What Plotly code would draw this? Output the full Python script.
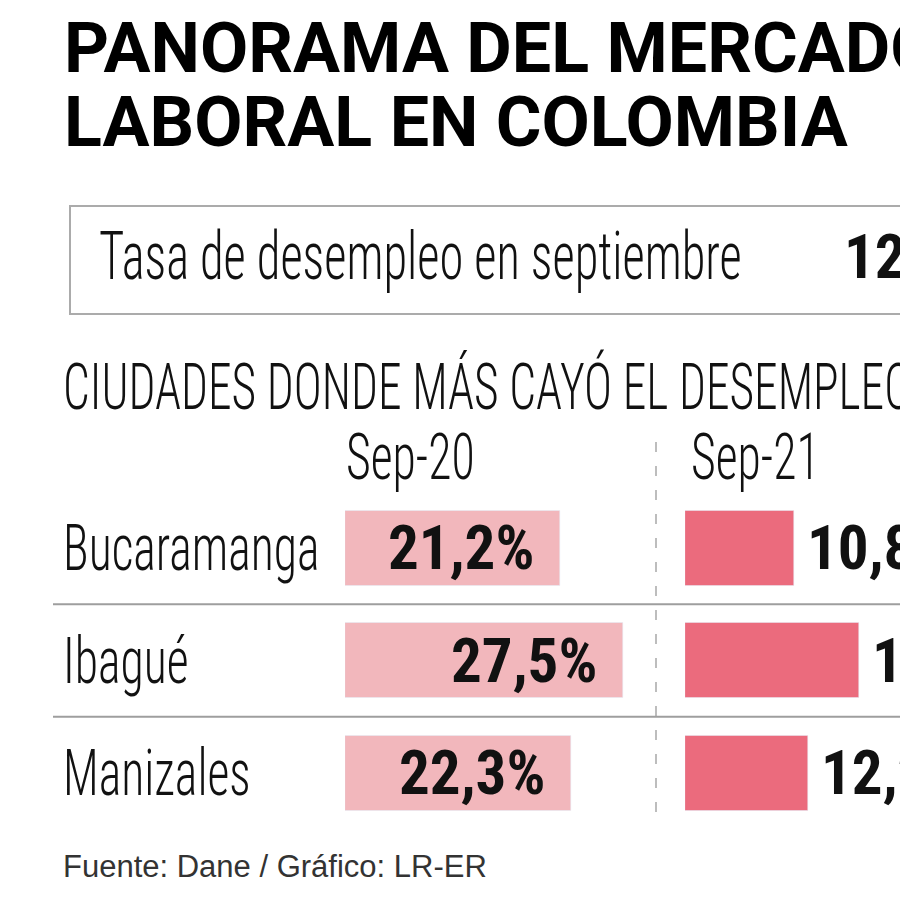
import plotly.graph_objects as go

# ---- data ----
cities = ["Bucaramanga", "Ibagué", "Manizales"]
sep20 = [21.2, 27.5, 22.3]
sep21 = [10.8, 17.2, 12.2]
period_labels = ["Sep-20", "Sep-21"]
national_rate = 12.1

title_lines = ["PANORAMA DEL MERCADO", "LABORAL EN COLOMBIA"]
box_label = "Tasa de desempleo en septiembre"
section_title = "CIUDADES DONDE MÁS CAYÓ EL DESEMPLEO"
source = "Fuente: Dane / Gráfico: LR-ER"

# ---- styles ----
W, H = 900, 900
C_LIGHT = "#F2B7BC"
C_DARK = "#EB6B7D"
COND = "Roboto Condensed, Roboto, Arial, sans-serif"
BOLD_T = "Roboto, Arial, sans-serif"
INK = "#111111"
GRID = "#9e9e9e"
SQUEEZE = "sx=0.735"   # horizontal squeeze that imitates a light condensed face


def fmt(v):
    return f"{v:.1f}".replace(".", ",") + "%"


def py(pix):  # pixel from top -> paper y
    return 1 - pix / H


def px(pix):
    return pix / W


PX_PER_UNIT = 10.12
x1_dom = [345 / W, 645 / W]
x2_dom = [685 / W, 1.0]

fig = go.Figure()
fig.add_trace(go.Bar(
    y=cities, x=sep20, orientation="h", marker_color=C_LIGHT,
    width=0.67, xaxis="x", yaxis="y", hoverinfo="skip", showlegend=False,
))
fig.add_trace(go.Bar(
    y=cities, x=sep21, orientation="h", marker_color=C_DARK,
    width=0.67, xaxis="x2", yaxis="y", hoverinfo="skip", showlegend=False,
))

LIGHT = dict(family=COND, color=INK, weight=300)

ann = []
# titles
for line, mid in zip(title_lines, [47.7, 122.3]):
    ann.append(dict(text=line, x=px(62), y=py(mid), xref="paper", yref="paper",
                    xanchor="left", yanchor="middle", showarrow=False,
                    font=dict(family=BOLD_T, size=70, color="#000000", weight="bold")))
# box texts
ann.append(dict(text=box_label, x=px(97), y=py(256.5), xref="paper", yref="paper",
                xanchor="left", yanchor="middle", showarrow=False, name=SQUEEZE,
                font=dict(size=66, **LIGHT)))
ann.append(dict(text=fmt(national_rate), x=px(842), y=py(257), xref="paper", yref="paper",
                xanchor="left", yanchor="middle", showarrow=False,
                font=dict(family=COND, size=61, color=INK, weight="bold")))
# section header
ann.append(dict(text=section_title, x=px(61), y=py(386.5), xref="paper", yref="paper",
                xanchor="left", yanchor="middle", showarrow=False, name=SQUEEZE,
                font=dict(size=64.5, **LIGHT)))
# period headers
for lab, xx in zip(period_labels, [344, 689]):
    ann.append(dict(text=lab, x=px(xx), y=py(457), xref="paper", yref="paper",
                    xanchor="left", yanchor="middle", showarrow=False, name=SQUEEZE,
                    font=dict(size=65, **LIGHT)))
# city labels
for c in cities:
    ann.append(dict(text=c, x=px(61), y=c, xref="paper", yref="y",
                    xanchor="left", yanchor="middle", showarrow=False, name=SQUEEZE,
                    font=dict(size=65, **LIGHT)))
# values
for c, v in zip(cities, sep20):
    ann.append(dict(text=fmt(v), x=v, y=c, xref="x", yref="y", xanchor="right",
                    yanchor="middle", xshift=-24, showarrow=False,
                    font=dict(family=COND, size=61, color=INK, weight="bold")))
for c, v in zip(cities, sep21):
    ann.append(dict(text=fmt(v), x=v, y=c, xref="x2", yref="y", xanchor="left",
                    yanchor="middle", xshift=11, showarrow=False,
                    font=dict(family=COND, size=61, color=INK, weight="bold")))
# source
ann.append(dict(text=source, x=px(61), y=py(866.5), xref="paper", yref="paper",
                xanchor="left", yanchor="middle", showarrow=False,
                font=dict(family="Liberation Sans, Arial, sans-serif", size=31, color="#333333")))

shapes = [
    dict(type="rect", xref="paper", yref="paper", x0=px(70), x1=px(920),
         y0=py(314), y1=py(206), line=dict(color="#ababab", width=2), layer="below"),
    dict(type="line", xref="paper", yref="paper", x0=px(656), x1=px(656),
         y0=py(812), y1=py(440), line=dict(color="#a8a8a8", width=1.5, dash="10px,14px")),
]
for k in range(len(cities) - 1):
    shapes.append(dict(type="line", xref="paper", yref="y", x0=px(53), x1=1.0,
                       y0=k + 0.5, y1=k + 0.5, line=dict(color=GRID, width=2)))

y_top, y_bot = 491.75, 829.25
fig.update_layout(
    width=W, height=H, margin=dict(l=0, r=0, t=0, b=0),
    paper_bgcolor="white", plot_bgcolor="white",
    xaxis=dict(domain=x1_dom, range=[0, (x1_dom[1] - x1_dom[0]) * W / PX_PER_UNIT],
               visible=False, fixedrange=True),
    xaxis2=dict(domain=x2_dom, range=[0, (x2_dom[1] - x2_dom[0]) * W / PX_PER_UNIT],
                visible=False, anchor="y", fixedrange=True),
    yaxis=dict(domain=[py(y_bot), py(y_top)], range=[len(cities) - 0.5, -0.5],
               categoryorder="array", categoryarray=cities, visible=False, fixedrange=True),
    annotations=ann, shapes=shapes, bargap=0,
)

# squeeze flagged annotation texts horizontally (keeps them as real SVG text)
post_js = """
(function(){
  var gd = document.getElementById('{plot_id}');
  var anns = (gd.layout && gd.layout.annotations) || [];
  anns.forEach(function(a, i){
    if (!a.name || a.name.indexOf('sx=') !== 0) return;
    var s = parseFloat(a.name.slice(3));
    var g = gd.querySelector('.annotation[data-index="' + i + '"]');
    if (!g) return;
    var t = g.querySelector('text.annotation-text');
    if (!t) return;
    var b = t.getBBox();
    var p = a.xanchor === 'right' ? b.x + b.width : (a.xanchor === 'left' ? b.x : b.x + b.width / 2);
    t.setAttribute('transform', 'translate(' + p + ',0) scale(' + s + ',1) translate(' + (-p) + ',0)');
  });
})();
"""

fig.write_html("out.html", post_script=post_js)
